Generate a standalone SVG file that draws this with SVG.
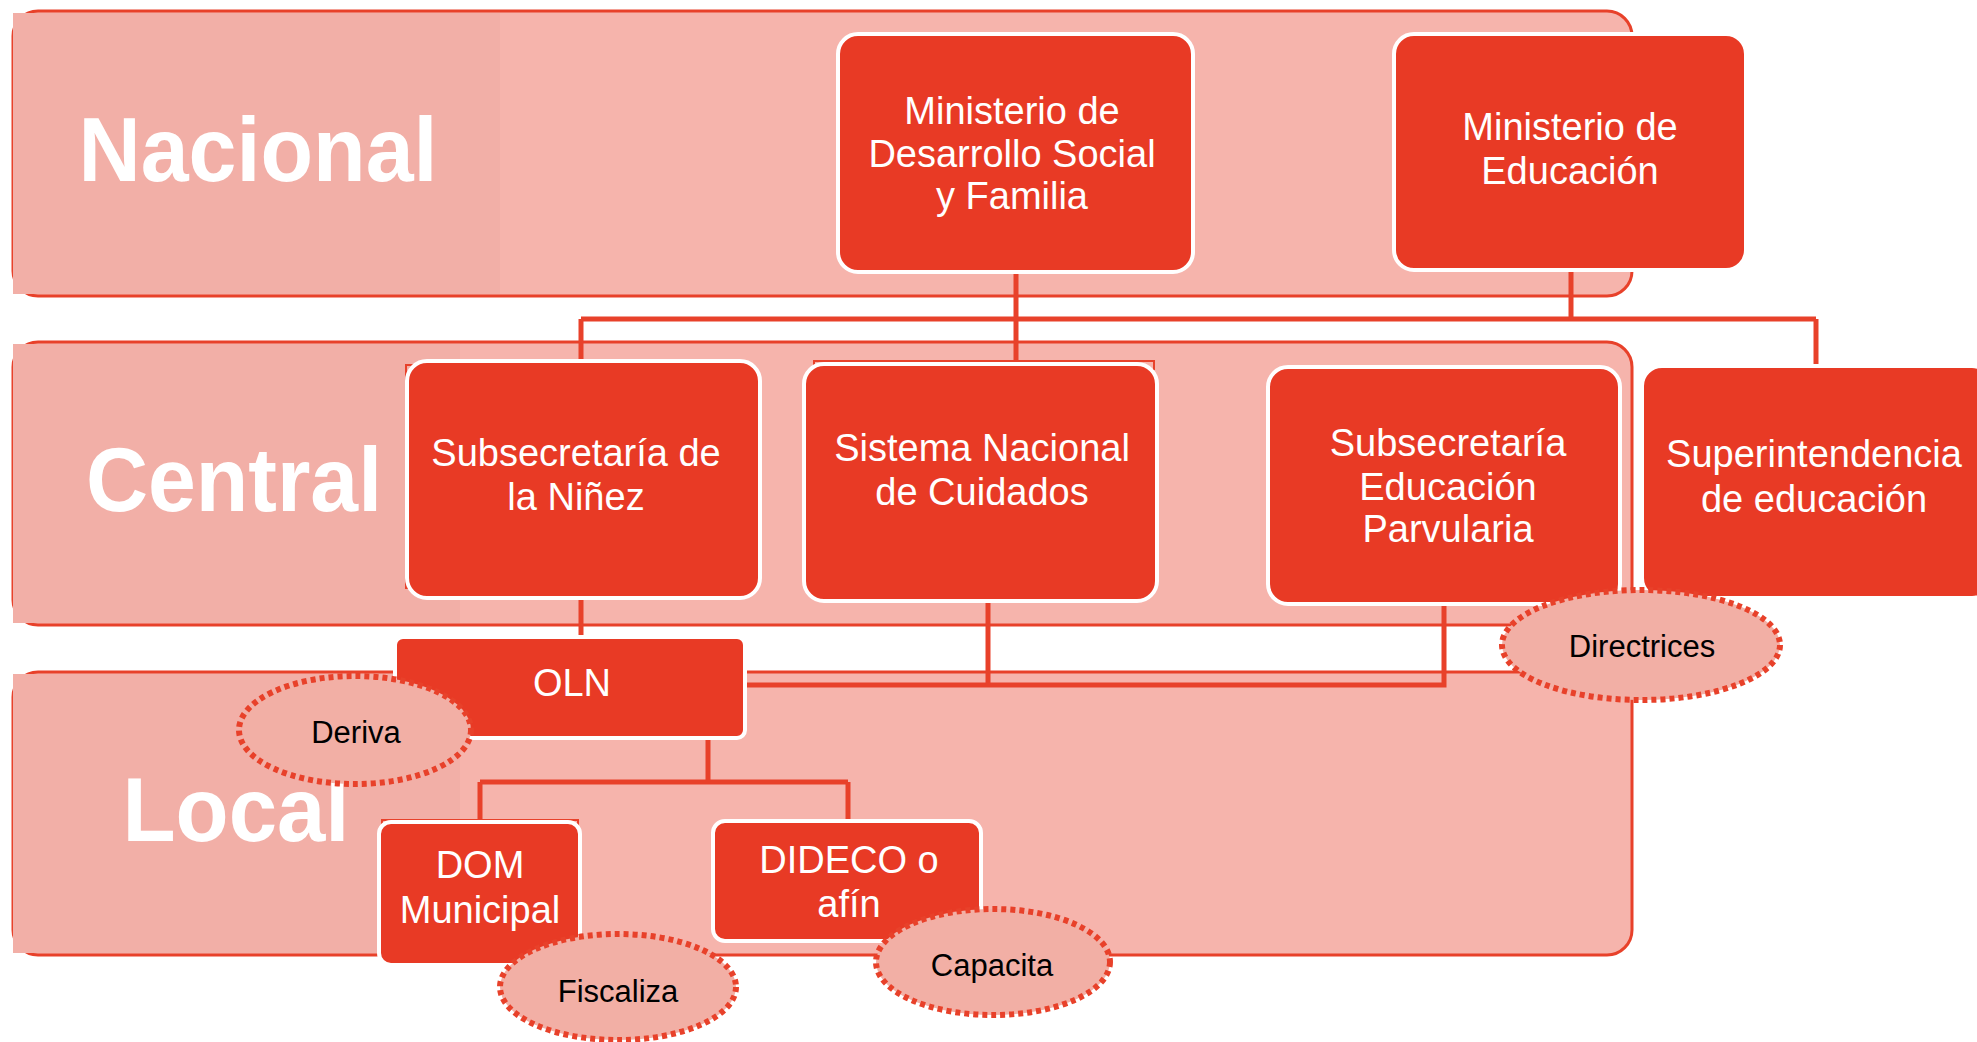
<svg xmlns="http://www.w3.org/2000/svg" width="1977" height="1042" viewBox="0 0 1977 1042">
<style>
.band{fill:#f6b4ac;stroke:#e8412a;stroke-width:3}
.lab{fill:#f2afa7}
.labt{font-family:"Liberation Sans",Arial,sans-serif;font-weight:bold;font-size:90px;fill:#fff;text-anchor:middle}
.box{fill:#e83a25;stroke:#fff;stroke-width:4}
.art{fill:none;stroke:#e8412a;stroke-width:2}
.bt{font-family:"Liberation Sans",Arial,sans-serif;font-size:38px;fill:#fff;text-anchor:middle}
.ell{fill:#f2afa5;stroke:#e8412a;stroke-width:6;stroke-dasharray:5 4}
.et{font-family:"Liberation Sans",Arial,sans-serif;font-size:31px;fill:#000;text-anchor:middle}
.con{fill:none;stroke:#e8412a;stroke-width:5}
</style>
<rect width="1977" height="1042" fill="#fff"/>
<g id="bands">
  <g id="band-nacional">
    <rect class="band" x="13" y="11" width="1619" height="285" rx="25"/>
    <rect class="lab" x="13" y="13" width="487" height="281"/>
    <text class="labt" x="258" y="181" textLength="359" lengthAdjust="spacingAndGlyphs">Nacional</text>
  </g>
  <g id="band-central">
    <rect class="band" x="13" y="342" width="1619" height="283" rx="25"/>
    <rect class="lab" x="13" y="344" width="447" height="279"/>
    <text class="labt" x="234" y="511" textLength="296" lengthAdjust="spacingAndGlyphs">Central</text>
  </g>
  <g id="band-local">
    <rect class="band" x="13" y="672" width="1619" height="283" rx="25"/>
    <rect class="lab" x="13" y="674" width="447" height="279"/>
    <text class="labt" x="236" y="841" textLength="227" lengthAdjust="spacingAndGlyphs">Local</text>
  </g>
</g>
<g id="connectors">
  <path class="con" d="M1016 272 V364"/>
  <path class="con" d="M581 319 H1816"/>
  <path class="con" d="M581 319 V361"/>
  <path class="con" d="M1571 270 V319"/>
  <path class="con" d="M1816 319 V366"/>
  <path class="con" d="M581 599 V637"/>
  <path class="con" d="M745 685 H1444 V605"/>
  <path class="con" d="M988 602 V685"/>
  <path class="con" d="M708 739 V782 M480 782 H848 M480 782 V822 M848 782 V821"/>
</g>
<g id="node-mdsf">
  <rect class="box" x="838" y="34" width="355" height="238" rx="20"/>
  <text class="bt" x="1012" y="124">Ministerio de</text>
  <text class="bt" x="1012" y="167">Desarrollo Social</text>
  <text class="bt" x="1012" y="209">y Familia</text>
</g>
<g id="node-mineduc">
  <rect class="box" x="1394" y="34" width="352" height="236" rx="20"/>
  <text class="bt" x="1570" y="140">Ministerio de</text>
  <text class="bt" x="1570" y="184">Educación</text>
</g>
<g id="node-subninez">
  <rect class="art" x="406" y="365" width="40" height="223"/>
  <rect class="box" x="407" y="361" width="353" height="237" rx="20"/>
  <text class="bt" x="576" y="466">Subsecretaría de</text>
  <text class="bt" x="576" y="510">la Niñez</text>
</g>
<g id="node-sistema">
  <path class="art" d="M814 370 V361 H1154 V370"/>
  <rect class="box" x="804" y="364" width="353" height="237" rx="20"/>
  <text class="bt" x="982" y="461">Sistema Nacional</text>
  <text class="bt" x="982" y="505">de Cuidados</text>
</g>
<g id="node-parvularia">
  <rect class="box" x="1268" y="367" width="352" height="237" rx="20"/>
  <text class="bt" x="1448" y="456">Subsecretaría</text>
  <text class="bt" x="1448" y="500">Educación</text>
  <text class="bt" x="1448" y="542">Parvularia</text>
</g>
<g id="node-superintendencia">
  <rect class="box" x="1642" y="366" width="350" height="232" rx="20"/>
  <text class="bt" x="1814" y="467">Superintendencia</text>
  <text class="bt" x="1814" y="512">de educación</text>
</g>
<g id="node-oln">
  <rect class="box" x="395" y="637" width="350" height="101" rx="8"/>
  <text class="bt" x="572" y="696">OLN</text>
</g>
<g id="node-dom">
  <path class="art" d="M382 828 V820 H578 V828"/>
  <rect class="box" x="379" y="822" width="201" height="143" rx="12"/>
  <text class="bt" x="480" y="878">DOM</text>
  <text class="bt" x="480" y="923">Municipal</text>
</g>
<g id="node-dideco">
  <rect class="box" x="713" y="821" width="268" height="120" rx="12"/>
  <text class="bt" x="849" y="873">DIDECO o</text>
  <text class="bt" x="849" y="917">afín</text>
</g>
<g id="note-deriva">
  <ellipse class="ell" cx="355" cy="730" rx="116" ry="54"/>
  <text class="et" x="356" y="743">Deriva</text>
</g>
<g id="note-fiscaliza">
  <ellipse class="ell" cx="618" cy="987" rx="118" ry="53"/>
  <text class="et" x="618" y="1002">Fiscaliza</text>
</g>
<g id="note-capacita">
  <ellipse class="ell" cx="993" cy="962" rx="117" ry="53"/>
  <text class="et" x="992" y="976">Capacita</text>
</g>
<g id="note-directrices">
  <ellipse class="ell" cx="1641" cy="645" rx="139" ry="55"/>
  <text class="et" x="1642" y="657" font-size="32">Directrices</text>
</g>
</svg>
